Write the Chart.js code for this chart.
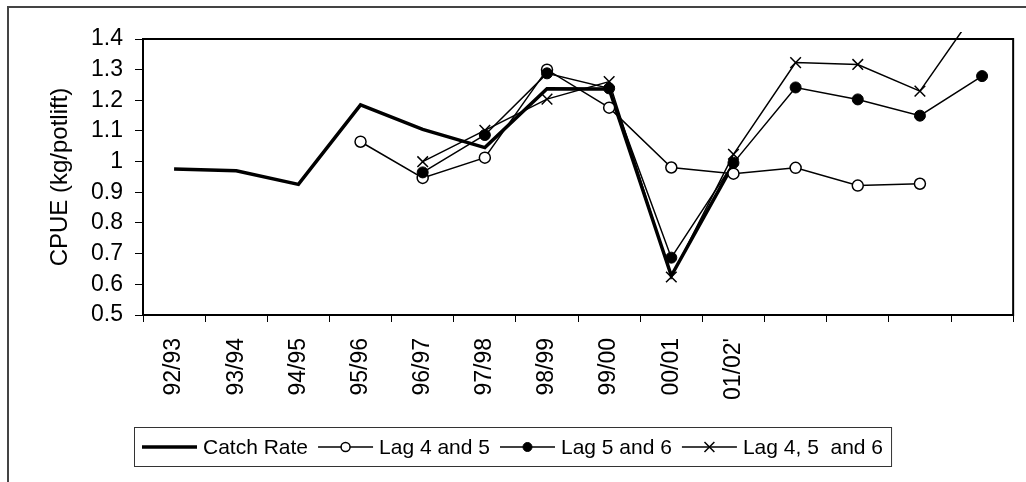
<!DOCTYPE html>
<html lang="en">
<head>
  <meta charset="UTF-8" />
  <title>CPUE lag chart</title>
  <script src="https://cdn.jsdelivr.net/npm/chart.js"></script>
  <style>
    body {
      margin: 0;
      background: #fff;
      overflow: hidden;
      width: 1026px;
      height: 482px;
      position: relative;
    }
    .frame {
      position: absolute;
      left: 7px;
      top: 6px;
      width: 1100px;
      height: 600px;
      border: 2px solid #444;
    }
    canvas {
      position: absolute;
      left: 0;
      top: 0;
    }
  </style>
</head>
<body>
  <div class="frame"></div>
  <canvas id="cpueChart" width="1026" height="482"></canvas>

  <script>
    // seasons (last four slots have no label in the original)
    const categories = ['92/93', '93/94', '94/95', '95/96', '96/97', '97/98', '98/99', '99/00', '00/01', "01/02'", '', '', '', ''];

    const catchRate = [0.976, 0.970, 0.926, 1.185, 1.105, 1.046, 1.238, 1.237, 0.628, 0.993, null, null, null, null];
    const lag45     = [null, null, null, 1.065, 0.947, 1.013, 1.300, 1.176, 0.981, 0.961, 0.980, 0.922, 0.928, null];
    const lag56     = [null, null, null, null, 0.965, 1.087, 1.288, 1.239, 0.687, 0.996, 1.242, 1.203, 1.150, 1.279];
    const lag456    = [null, null, null, null, 1.000, 1.102, 1.204, 1.261, 0.624, 1.024, 1.323, 1.317, 1.230, 1.52];

    const yTitle = 'CPUE (kg/potlift)';
    const FONT = '"Liberation Sans", Arial, sans-serif';

    // box around the plot area
    const plotBorder = {
      id: 'plotBorder',
      afterDatasetsDraw(chart) {
        const a = chart.chartArea;
        const ctx = chart.ctx;
        ctx.save();
        ctx.strokeStyle = '#000';
        ctx.lineWidth = 2;
        ctx.strokeRect(a.left, a.top, a.right - a.left, a.bottom - a.top);
        ctx.restore();
      }
    };

    // excel style legend: line with marker in the middle, boxed
    const boxLegend = {
      id: 'boxLegend',
      afterDraw(chart) {
        const ctx = chart.ctx;
        const y = 447;
        let x = 142;
        ctx.save();
        ctx.font = '21px ' + FONT;
        ctx.textBaseline = 'middle';
        chart.data.datasets.forEach(ds => {
          ctx.strokeStyle = ds.borderColor;
          ctx.lineWidth = ds.borderWidth;
          ctx.beginPath();
          ctx.moveTo(x, y);
          ctx.lineTo(x + 55, y);
          ctx.stroke();
          if (ds.pointRadius > 0) {
            ctx.fillStyle = ds.pointBackgroundColor;
            ctx.strokeStyle = ds.pointBorderColor;
            ctx.lineWidth = ds.pointBorderWidth;
            const r = ds.pointStyle === 'crossRot' ? 7 : 4.5;
            Chart.helpers.drawPoint(ctx, { pointStyle: ds.pointStyle, radius: r, borderWidth: ds.pointBorderWidth, rotation: 0 }, x + 27.5, y);
          }
          x += 61;
          ctx.fillStyle = '#000';
          ctx.fillText(ds.label, x, y + 1);
          x += ctx.measureText(ds.label).width + 10;
        });
        ctx.strokeStyle = '#333';
        ctx.lineWidth = 1;
        ctx.strokeRect(134.5, 427.5, x - 134 - 2, 39);
        ctx.restore();
      }
    };

    new Chart(document.getElementById('cpueChart'), {
      type: 'line',
      data: {
        labels: categories,
        datasets: [
          {
            label: 'Catch Rate',
            data: catchRate,
            borderColor: '#000',
            borderWidth: 3.5,
            pointRadius: 0,
            order: 4
          },
          {
            label: 'Lag 4 and 5',
            data: lag45,
            borderColor: '#000',
            borderWidth: 1.5,
            pointStyle: 'circle',
            pointRadius: 5.5,
            pointBackgroundColor: '#fff',
            pointBorderColor: '#000',
            pointBorderWidth: 1.5,
            order: 3
          },
          {
            label: 'Lag 5 and 6',
            data: lag56,
            borderColor: '#000',
            borderWidth: 1.5,
            pointStyle: 'circle',
            pointRadius: 5.5,
            pointBackgroundColor: '#000',
            pointBorderColor: '#000',
            pointBorderWidth: 1,
            order: 2
          },
          {
            label: 'Lag 4, 5  and 6',
            data: lag456,
            borderColor: '#000',
            borderWidth: 1.5,
            pointStyle: 'crossRot',
            pointRadius: 7.5,
            pointBackgroundColor: '#000',
            pointBorderColor: '#000',
            pointBorderWidth: 1.5,
            clip: { left: 0, top: 7, right: 0, bottom: 0 },
            order: 1
          }
        ]
      },
      options: {
        responsive: false,
        animation: false,
        spanGaps: false,
        layout: { padding: { top: 39, right: 2, left: 0, bottom: 0 } },
        plugins: {
          legend: { display: false },
          tooltip: { enabled: false }
        },
        scales: {
          x: {
            offset: true,
            grid: { offset: true, drawOnChartArea: false, drawTicks: true, tickLength: 7, color: '#000', lineWidth: 1 },
            border: { display: true, color: '#000', width: 2 },
            ticks: {
              autoSkip: false,
              minRotation: 90,
              maxRotation: 90,
              padding: 16,
              color: '#000',
              font: { family: FONT, size: 23 }
            },
            afterFit(scale) { scale.height = 167; }
          },
          y: {
            min: 0.5,
            max: 1.4,
            grid: { drawOnChartArea: false, drawTicks: true, tickLength: 8, color: '#000', lineWidth: 1 },
            border: { display: true, color: '#000', width: 2 },
            ticks: {
              stepSize: 0.1,
              padding: 12,
              color: '#000',
              font: { family: FONT, size: 23 },
              callback: v => String(Number(v.toFixed(1)))
            },
            title: {
              display: true,
              text: yTitle,
              color: '#000',
              padding: { top: 46, bottom: 0 },
              font: { family: FONT, size: 24, weight: 'normal' }
            },
            afterFit(scale) { scale.width = 143; }
          }
        }
      },
      plugins: [plotBorder, boxLegend]
    });
  </script>
</body>
</html>
